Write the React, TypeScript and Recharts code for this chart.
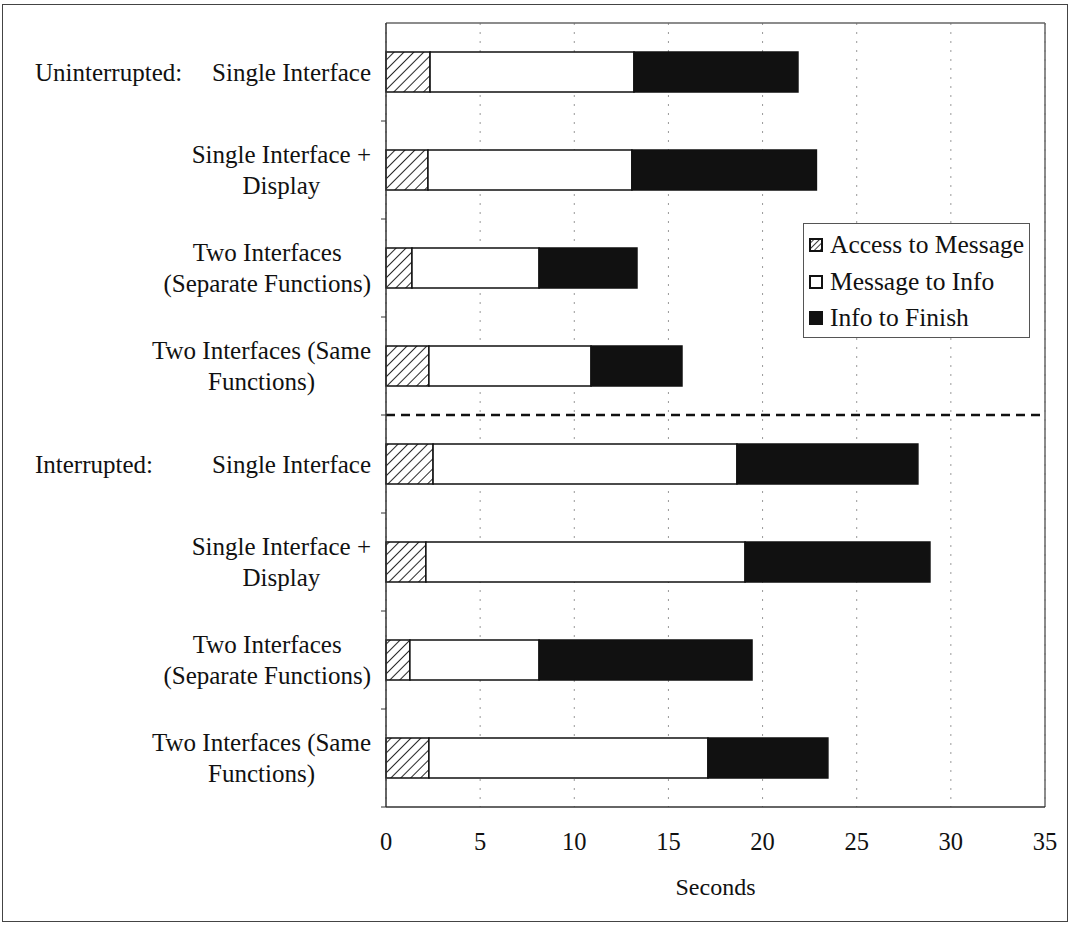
// Task times per interface condition, stacked by phase (seconds)
import { BarChart, Bar, XAxis, YAxis, CartesianGrid, ReferenceLine } from 'recharts';

const FONT = '"Liberation Serif", "Times New Roman", serif';
const INK = '#111';
const LABEL_SIZE = 25;

const groups = ['Uninterrupted:', 'Interrupted:'];
const conditions = [
  ['Single Interface'],
  ['Single Interface +', 'Display'],
  ['Two Interfaces', '(Separate Functions)'],
  ['Two Interfaces (Same', 'Functions)'],
];
const seriesNames = ['Access to Message', 'Message to Info', 'Info to Finish'];

// in the order: uninterrupted x4, interrupted x4
const accessToMessage = [2.34, 2.23, 1.38, 2.28, 2.5, 2.12, 1.27, 2.28];
const messageToInfo = [10.83, 10.83, 6.75, 8.61, 16.14, 16.95, 6.86, 14.82];
const infoToFinish = [8.71, 9.8, 5.2, 4.83, 9.61, 9.82, 11.31, 6.37];

const xTicks = [0, 5, 10, 15, 20, 25, 30, 35];

const rows = groups.flatMap((g, gi) =>
  conditions.map((lines, ci) => {
    const i = gi * conditions.length + ci;
    return {
      key: `${gi}-${ci}`,
      group: ci === 0 ? g : '',
      lines,
      access: accessToMessage[i],
      message: messageToInfo[i],
      finish: infoToFinish[i],
    };
  })
);

const HALF_BAND = 49;

let ctx: CanvasRenderingContext2D | null = null;
function textWidth(s: string) {
  if (!ctx) ctx = document.createElement('canvas').getContext('2d');
  if (!ctx) return s.length * 11;
  ctx.font = `${LABEL_SIZE}px ${FONT}`;
  return ctx.measureText(s).width;
}

function YTick(props: any) {
  const { x, y, payload } = props;
  const row = rows.find((r) => r.key === payload.value);
  if (!row) return null;
  const w = Math.max(...row.lines.map(textWidth));
  const cx = x - w / 2;
  const lh = 31;
  const top = y - ((row.lines.length - 1) * lh) / 2;
  return (
    <g>
      {row.group && (
        <text x={35} y={y} dy="0.35em" fontSize={LABEL_SIZE} fontFamily={FONT} fill={INK}>
          {row.group}
        </text>
      )}
      {row.lines.map((l, i) => (
        <text key={i} x={cx} y={top + i * lh} dy="0.35em" textAnchor="middle" fontSize={LABEL_SIZE} fontFamily={FONT} fill={INK}>
          {l}
        </text>
      ))}
      <line x1={x + 10} x2={x + 15} y1={y + HALF_BAND} y2={y + HALF_BAND} stroke="#333" strokeWidth={1} />
    </g>
  );
}

function HatchIcon() {
  return (
    <svg width={14} height={14} style={{ display: 'block' }}>
      <defs>
        <pattern id="hatchIcon" patternUnits="userSpaceOnUse" width={4} height={4} patternTransform="rotate(45)">
          <line x1={0} y1={0} x2={0} y2={4} stroke={INK} strokeWidth={1.6} />
        </pattern>
      </defs>
      <rect x={1} y={1} width={12} height={12} fill="url(#hatchIcon)" stroke={INK} strokeWidth={2} />
    </svg>
  );
}

function LegendBox() {
  const icons = [
    <HatchIcon key="h" />,
    <svg key="w" width={14} height={14} style={{ display: 'block' }}>
      <rect x={1} y={1} width={12} height={12} fill="#fff" stroke={INK} strokeWidth={2} />
    </svg>,
    <svg key="b" width={14} height={14} style={{ display: 'block' }}>
      <rect x={0} y={0} width={14} height={14} fill={INK} />
    </svg>,
  ];
  return (
    <div
      style={{
        position: 'absolute',
        left: 803,
        top: 223,
        width: 227,
        height: 115,
        border: '1.5px solid #555',
        boxSizing: 'border-box',
        background: '#fff',
        fontFamily: FONT,
        fontSize: 25.5,
        color: INK,
        paddingTop: 3,
      }}
    >
      {seriesNames.map((n, i) => (
        <div key={n} style={{ display: 'flex', alignItems: 'center', height: 36.5, paddingLeft: 5 }}>
          {icons[i]}
          <span style={{ marginLeft: 7 }}>{n}</span>
        </div>
      ))}
    </div>
  );
}

export default function App() {
  return (
    <div style={{ position: 'absolute', left: 0, top: 0, width: 1072, height: 930, background: '#fff' }}>
      <BarChart
        width={1072}
        height={930}
        data={rows}
        layout="vertical"
        margin={{ top: 23, right: 27, bottom: 23, left: 0 }}
        barSize={40}
      >
        <defs>
          <pattern id="hatch" patternUnits="userSpaceOnUse" width={7} height={7} patternTransform="rotate(45)">
            <rect width={7} height={7} fill="#fff" />
            <line x1={0} y1={0} x2={0} y2={7} stroke={INK} strokeWidth={1.8} />
          </pattern>
        </defs>
        <CartesianGrid vertical horizontal={false} stroke="#999" strokeDasharray="2 7" />
        <XAxis
          type="number"
          domain={[0, 35]}
          ticks={xTicks}
          height={100}
          axisLine={{ stroke: '#333', strokeWidth: 1.5 }}
          tickLine={false}
          tickSize={0}
          tickMargin={26}
          tick={{ fontSize: 24.5, fill: INK, fontFamily: FONT }}
          label={{ value: 'Seconds', position: 'insideBottom', offset: 12, fontSize: 24, fill: INK, fontFamily: FONT }}
        />
        <YAxis
          type="category"
          dataKey="key"
          width={386}
          axisLine={{ stroke: '#333', strokeWidth: 1.5 }}
          tickLine={false}
          tickSize={0}
          tickMargin={15}
          interval={0}
          tick={<YTick />}
        />
        <ReferenceLine x={35} stroke="#666" strokeWidth={1.5} />
        <ReferenceLine y={rows[0].key} position="start" stroke="#666" strokeWidth={1.5} />
        <ReferenceLine y={rows[4].key} position="start" stroke={INK} strokeWidth={2.5} strokeDasharray="9 6" />
        <Bar dataKey="access" name={seriesNames[0]} stackId="a" fill="url(#hatch)" stroke={INK} strokeWidth={1.5} isAnimationActive={false} />
        <Bar dataKey="message" name={seriesNames[1]} stackId="a" fill="#fff" stroke={INK} strokeWidth={1.5} isAnimationActive={false} />
        <Bar dataKey="finish" name={seriesNames[2]} stackId="a" fill={INK} stroke={INK} strokeWidth={1.5} isAnimationActive={false} />
      </BarChart>
      <LegendBox />
      <div
        style={{
          position: 'absolute',
          left: 2,
          top: 4,
          width: 1066,
          height: 918,
          border: '1.5px solid #444',
          boxSizing: 'border-box',
          pointerEvents: 'none',
        }}
      />
    </div>
  );
}
